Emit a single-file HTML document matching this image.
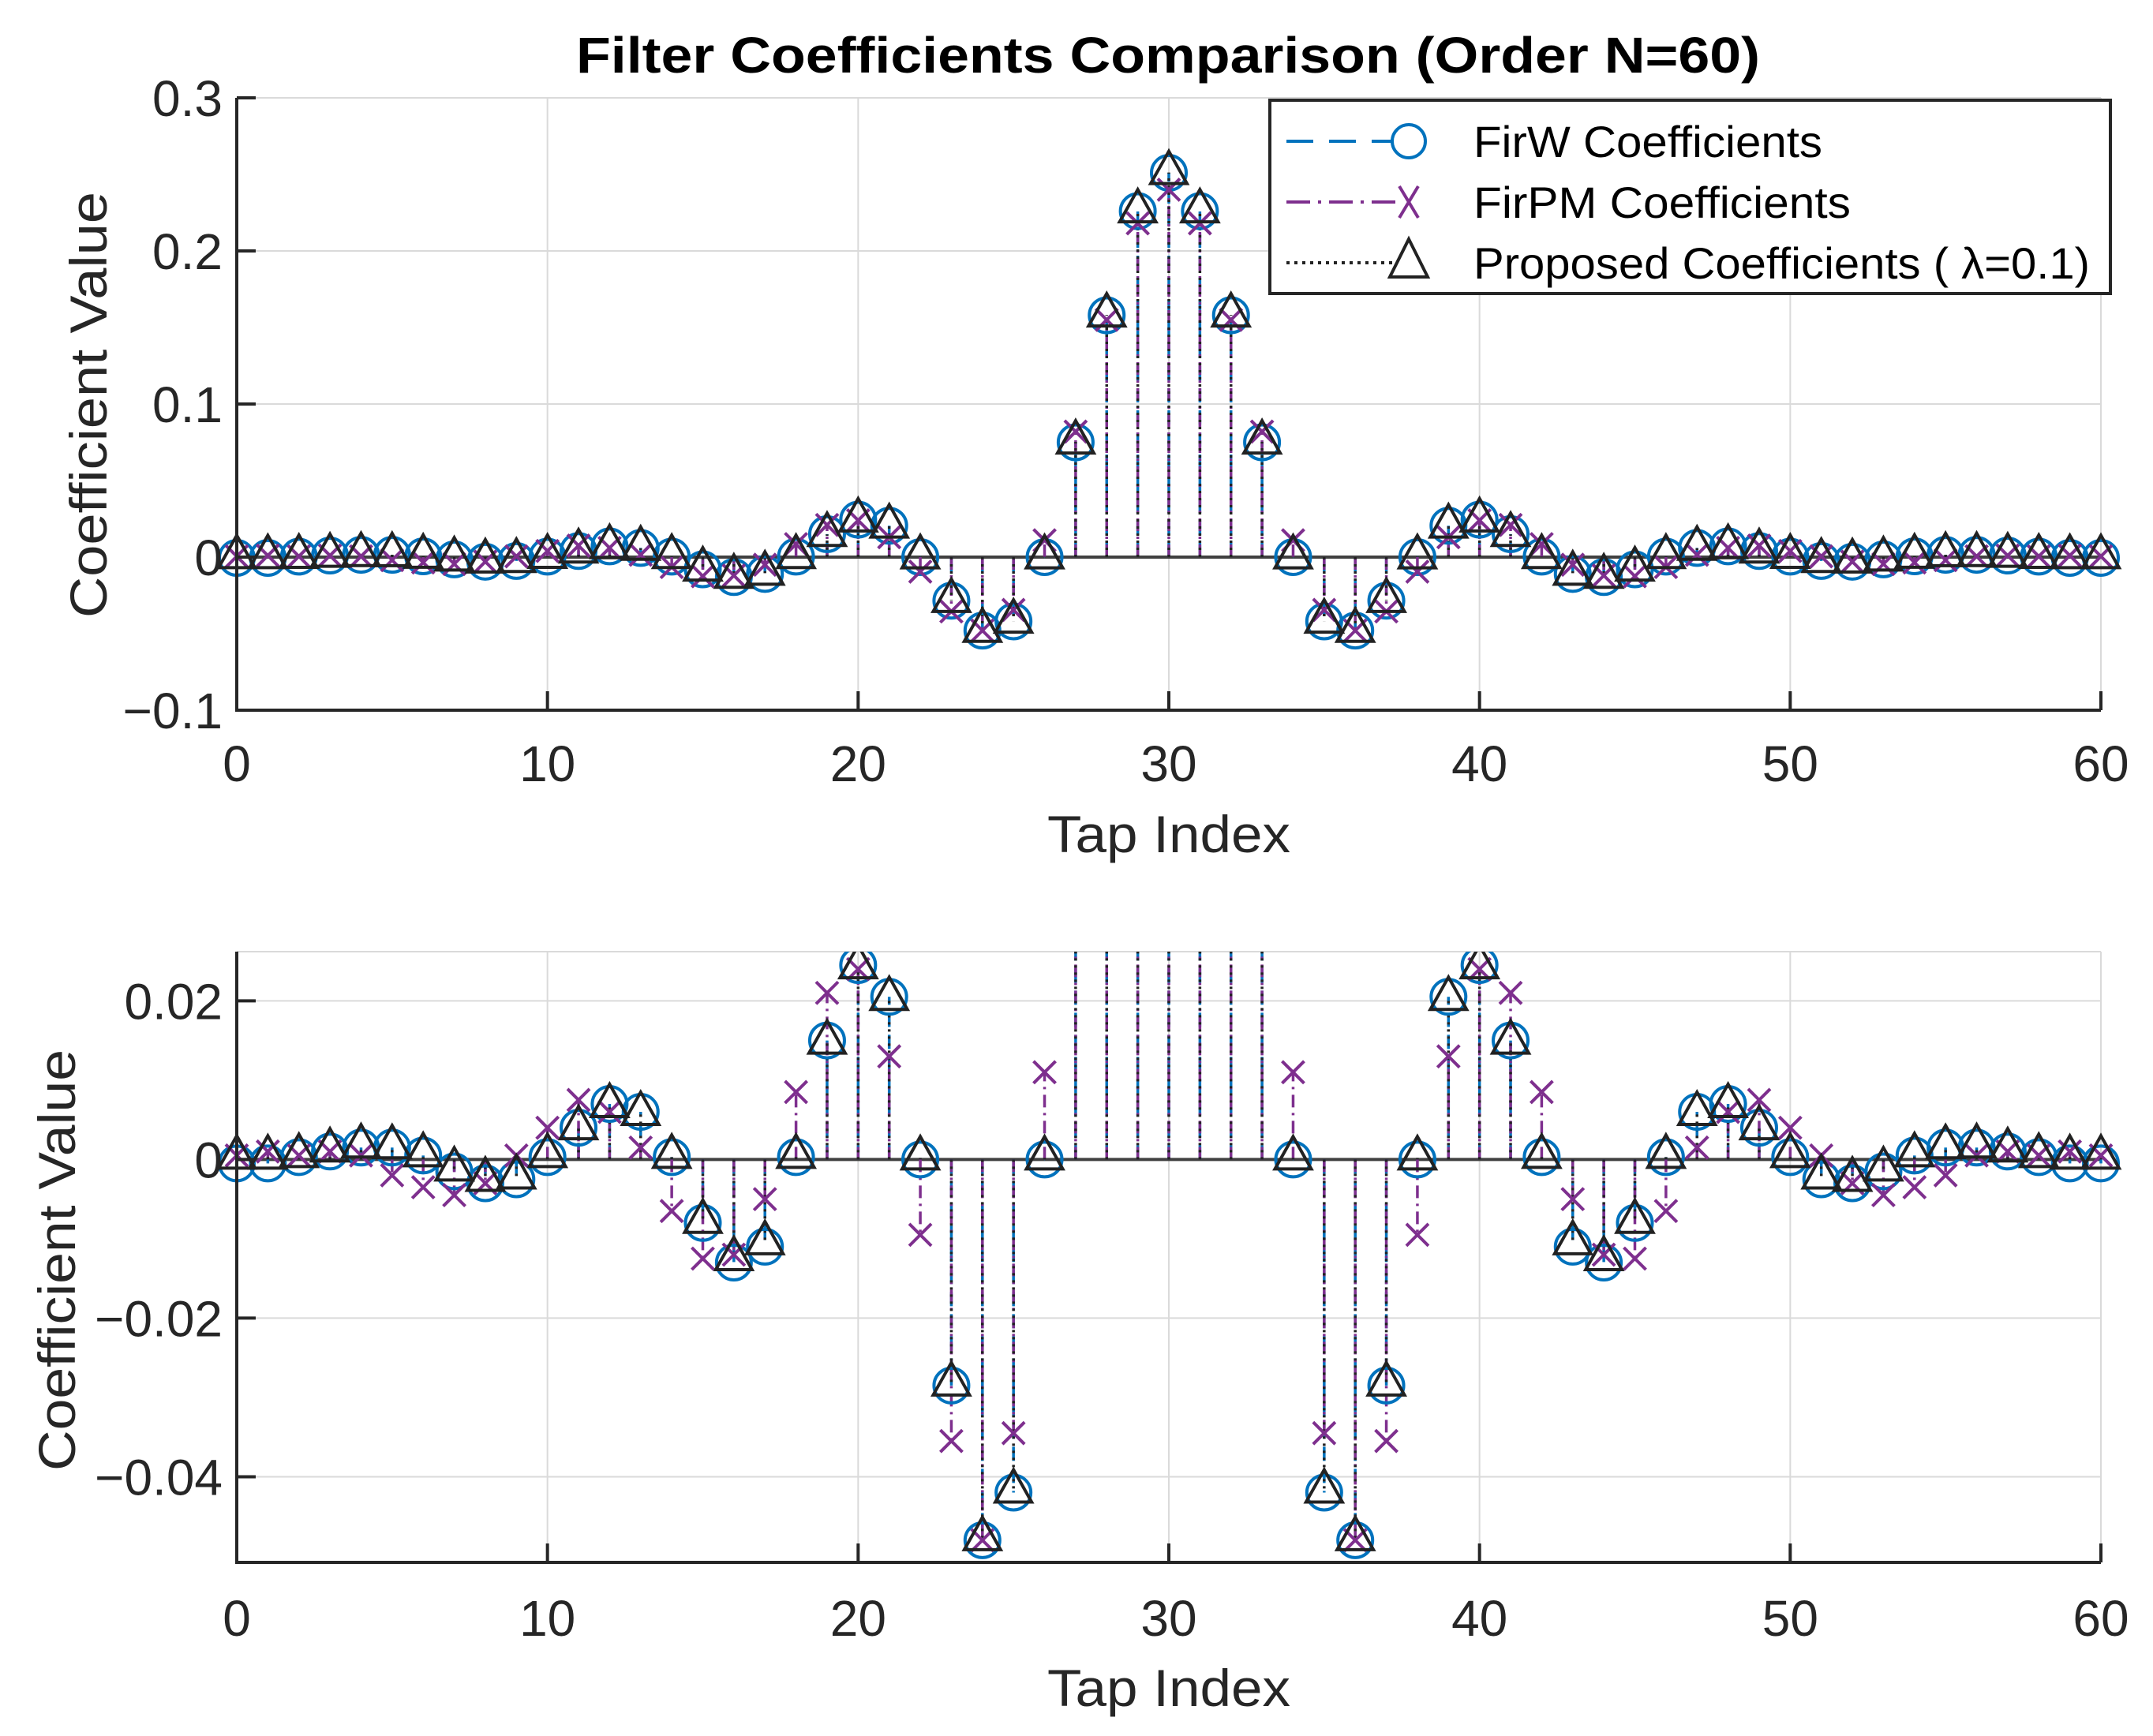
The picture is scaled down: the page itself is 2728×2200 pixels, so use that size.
<!DOCTYPE html>
<html><head><meta charset="utf-8"><style>
html,body{margin:0;padding:0;background:#fff;}
svg{display:block;font-family:"Liberation Sans",Arial,sans-serif;}
</style></head><body>
<svg id="chart" width="2728" height="2200" viewBox="0 0 2728 2200" xmlns="http://www.w3.org/2000/svg">
<rect width="2728" height="2200" fill="#fff"/>
<text x="1480" y="92" font-size="64" font-weight="bold" text-anchor="middle" textLength="1500" lengthAdjust="spacingAndGlyphs" fill="#000">Filter Coefficients Comparison (Order N=60)</text>
<g id="top"></g>
<g id="bot"></g>
</svg>
<script>
const taps = [];
for (let i = 0; i <= 60; i++) taps.push(i);
const firw = [-0.0005,-0.0005,0.0003,0.001,0.0015,0.0015,0.0005,-0.0015,-0.003,-0.0025,0.0003,0.004,0.007,0.006,0.0003,-0.008,-0.013,-0.011,0.0003,0.015,0.0245,0.0205,0.0,-0.0285,-0.048,-0.042,0.0,0.075,0.158,0.226,0.251,0.226,0.158,0.075,0.0,-0.042,-0.048,-0.0285,0.0,0.0205,0.0245,0.015,0.0003,-0.011,-0.013,-0.008,0.0003,0.006,0.007,0.004,0.0003,-0.0025,-0.003,-0.0015,0.0005,0.0015,0.0015,0.001,0.0003,-0.0005,-0.0005];
const firpm = [0.0005,0.001,0.0005,0.001,0.0005,-0.002,-0.0035,-0.0045,-0.003,0.0005,0.004,0.0075,0.006,0.0015,-0.0065,-0.0125,-0.012,-0.005,0.0085,0.021,0.024,0.013,-0.0095,-0.0355,-0.048,-0.0345,0.011,0.082,0.155,0.218,0.24,0.218,0.155,0.082,0.011,-0.0345,-0.048,-0.0355,-0.0095,0.013,0.024,0.021,0.0085,-0.005,-0.012,-0.0125,-0.0065,0.0015,0.006,0.0075,0.004,0.0005,-0.003,-0.0045,-0.0035,-0.002,0.0005,0.001,0.0005,0.001,0.0005];
const proposed = [0.0003,0.0003,0.0005,0.0012,0.0017,0.0016,0.0006,-0.0012,-0.0025,-0.0022,0.0005,0.004,0.0068,0.0058,0.0004,-0.0078,-0.0125,-0.0105,0.0004,0.0148,0.0243,0.0203,0.0002,-0.0283,-0.0478,-0.0418,0.0002,0.0752,0.1582,0.2262,0.2512,0.2262,0.1582,0.0752,0.0002,-0.0418,-0.0478,-0.0283,0.0002,0.0203,0.0243,0.0148,0.0004,-0.0105,-0.0125,-0.0078,0.0004,0.0058,0.0068,0.004,0.0005,-0.0022,-0.0025,-0.0012,0.0006,0.0016,0.0017,0.0012,0.0005,0.0003,0.0003];
const xTicks = [0,10,20,30,40,50,60];
const xTickLabels = ["0","10","20","30","40","50","60"];
const topYTicks = [-0.1,0,0.1,0.2,0.3];
const topYTickLabels = ["\u22120.1","0","0.1","0.2","0.3"];
const botYTicks = [-0.04,-0.02,0,0.02];
const botYTickLabels = ["\u22120.04","\u22120.02","0","0.02"];
const legendLabels = ["FirW Coefficients","FirPM Coefficients","Proposed Coefficients ( \u03bb=0.1)"];

const NS = "http://www.w3.org/2000/svg";
function mk(tag, attrs, parent) {
  const e = document.createElementNS(NS, tag);
  for (const k in attrs) e.setAttribute(k, attrs[k]);
  parent.appendChild(e);
  return e;
}
const BLUE = "#0072BD", PURPLE = "#7E2F8E", DARK = "#262626";

function panel(g, id, yTop, yBot, ymin, ymax, yTicks, yTickLabels, tickFont, xlabY, tickLabY, ylabX, ylabY, ylabLen) {
  const L = 300, R = 2662;
  const xs = v => L + (v - 0) / 60 * (R - L);
  const ys = v => yBot - (v - ymin) / (ymax - ymin) * (yBot - yTop);
  xTicks.forEach((t, i) => {
    const gl = mk("line", {x1: xs(t), x2: xs(t), y1: yTop, y2: yBot, stroke: "#dadada", "stroke-width": 2}, g);
    
    
  });
  yTicks.forEach(t => {
    const gl = mk("line", {x1: L, x2: R, y1: ys(t), y2: ys(t), stroke: "#dadada", "stroke-width": 2}, g);
    
    
  });
  const top = mk("line", {x1: L, x2: R, y1: yTop, y2: yTop, stroke: "#dadada", "stroke-width": 2}, g);
  
  
  const cp = mk("clipPath", {id: "clip" + id}, g);
  mk("rect", {x: L - 30, y: yTop, width: R - L + 60, height: yBot - yTop}, cp);
  const plot = mk("g", {"clip-path": "url(#clip" + id + ")"}, g);
  
  
  const bl = mk("line", {x1: L, x2: R, y1: ys(0), y2: ys(0), stroke: "#404040", "stroke-width": 4}, plot);
  
  
  const series = [
    {vals: firw, color: BLUE, dash: "18,10", name: "firw"},
    {vals: firpm, color: PURPLE, dash: "16,7,3,7", name: "firpm"},
    {vals: proposed, color: "#222", dash: "3,6", name: "proposed"}
  ];
  series.forEach(s => {
    taps.forEach((t, i) => {
      const st = mk("line", {x1: xs(t), x2: xs(t), y1: ys(0), y2: ys(s.vals[i]), stroke: s.color, "stroke-width": 3.5, "stroke-dasharray": s.dash}, plot);
      
      
    });
  });
  series.forEach(s => {
    taps.forEach((t, i) => {
      const cx = xs(t), cy = ys(s.vals[i]);
      let m;
      if (s.name === "firw") {
        m = mk("circle", {cx: cx, cy: cy, r: 22, fill: "none", stroke: BLUE, "stroke-width": 4}, plot);
        
      } else if (s.name === "firpm") {
        const d = 14;
        m = mk("path", {d: `M${cx-d},${cy-d}L${cx+d},${cy+d}M${cx-d},${cy+d}L${cx+d},${cy-d}`, stroke: PURPLE, "stroke-width": 4, fill: "none"}, plot);
        
      } else {
        m = mk("path", {d: `M${cx},${cy-27}L${cx+23},${cy+14}L${cx-23},${cy+14}Z`, stroke: "#222", "stroke-width": 4, fill: "none"}, plot);
        
      }
      
    });
  });
  const ax = mk("path", {d: `M${L},${yTop}L${L},${yBot}L${R},${yBot}`, stroke: DARK, "stroke-width": 4, fill: "none"}, g);
  
  
  xTicks.forEach((t, i) => {
    const tk = mk("line", {x1: xs(t), x2: xs(t), y1: yBot, y2: yBot - 24, stroke: DARK, "stroke-width": 4}, g);
    
    
    const lb = mk("text", {x: xs(t), y: tickLabY, "font-size": tickFont, "text-anchor": "middle", fill: DARK}, g);
    lb.textContent = xTickLabels[i];
    
    
  });
  yTicks.forEach((t, i) => {
    const tk = mk("line", {x1: L, x2: L + 24, y1: ys(t), y2: ys(t), stroke: DARK, "stroke-width": 4}, g);
    
    
    const lb = mk("text", {x: L - 18, y: ys(t) + tickFont * 0.36, "font-size": tickFont, "text-anchor": "end", fill: DARK}, g);
    lb.textContent = yTickLabels[i];
    
    
  });
  const xl = mk("text", {x: (L + R) / 2, y: xlabY, "font-size": 66, "text-anchor": "middle", fill: DARK, textLength: 308, lengthAdjust: "spacingAndGlyphs"}, g);
  xl.textContent = "Tap Index";
  
  
  const yl = mk("text", {x: 0, y: 0, "font-size": 66, "text-anchor": "middle", fill: DARK, textLength: ylabLen, lengthAdjust: "spacingAndGlyphs", transform: `translate(${ylabX},${ylabY}) rotate(-90)`}, g);
  yl.textContent = "Coefficient Value";
  
  
}

const gTop = document.getElementById("top");


panel(gTop, "t", 124, 900, -0.1, 0.3, topYTicks, topYTickLabels, 64, 1080, 990, 135, 513, 540);
const gBot = document.getElementById("bot");


panel(gBot, "b", 1206, 1980, -0.0508, 0.0262, botYTicks, botYTickLabels, 64, 2162, 2073, 95, 1597, 534);

const lg = mk("g", {}, document.getElementById("chart"));


mk("rect", {x: 1609, y: 127, width: 1065, height: 245, fill: "#fff", stroke: DARK, "stroke-width": 4}, lg);
const rowsY = [179, 256, 333];
const legColors = [BLUE, PURPLE, "#222"];
const legDash = ["34,20", "30,10,4,10", "4,6"];
legendLabels.forEach((txt, i) => {
  const y = rowsY[i];
  const ent = mk("g", {}, lg);
  
  
  mk("line", {x1: 1630, x2: 1770, y1: y, y2: y, stroke: legColors[i], "stroke-width": 4, "stroke-dasharray": legDash[i]}, ent);
  const cx = 1785;
  if (i === 0) mk("circle", {cx: cx, cy: y, r: 21, fill: "#fff", stroke: BLUE, "stroke-width": 4}, ent);
  else if (i === 1) mk("path", {d: `M${cx-12},${y-20}L${cx+12},${y+20}M${cx-12},${y+20}L${cx+12},${y-20}`, stroke: PURPLE, "stroke-width": 4}, ent);
  else mk("path", {d: `M${cx},${y-30}L${cx+24},${y+18}L${cx-24},${y+18}Z`, fill: "#fff", stroke: "#222", "stroke-width": 4}, ent);
  const t = mk("text", {x: 1867, y: y + 20, "font-size": 56, fill: "#000", textLength: [442, 478, 781][i], lengthAdjust: "spacingAndGlyphs"}, ent);
  t.textContent = txt;
});
</script>
</body></html>
